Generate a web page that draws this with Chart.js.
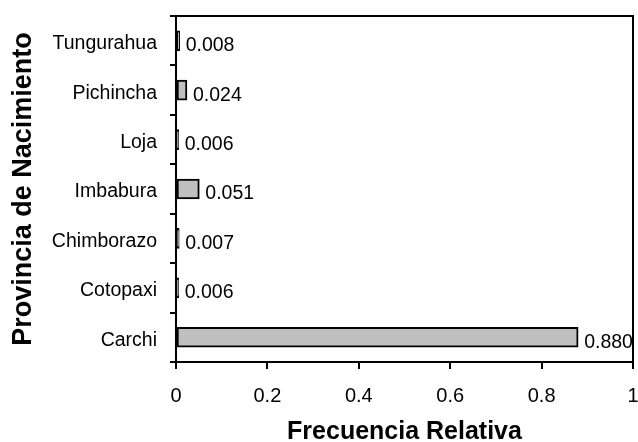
<!DOCTYPE html>
<html>
<head>
<meta charset="utf-8">
<script src="https://cdn.jsdelivr.net/npm/chart.js@4"></script>
<style>
  html, body { margin: 0; padding: 0; background: #fff; }
  #wrap { width: 638px; height: 442px; }
</style>
</head>
<body>
<div id="wrap"><canvas id="c" width="638" height="442"></canvas></div>
<script>
const provincias = ['Carchi', 'Cotopaxi', 'Chimborazo', 'Imbabura', 'Loja', 'Pichincha', 'Tungurahua'];
const frecuencia = [0.880, 0.006, 0.007, 0.051, 0.006, 0.024, 0.008];
const xTicks = [0, 0.2, 0.4, 0.6, 0.8, 1];

const font = 'Liberation Sans, Arial, sans-serif';

// frame around plot area + value labels beside bars
const framePlugin = {
  id: 'frame',
  afterDraw(chart) {
    const { ctx, chartArea: a } = chart;
    ctx.save();
    ctx.strokeStyle = '#000';
    ctx.lineWidth = 2;
    ctx.strokeRect(a.left, a.top, a.right - a.left, a.bottom - a.top);

    const meta = chart.getDatasetMeta(0);
    ctx.fillStyle = '#000';
    ctx.font = '19.5px ' + font;
    ctx.textAlign = 'left';
    ctx.textBaseline = 'middle';
    meta.data.forEach((bar, i) => {
      ctx.fillText(frecuencia[i].toFixed(3), bar.x + 6, bar.y + 5);
    });
    ctx.restore();
  }
};

new Chart(document.getElementById('c'), {
  type: 'bar',
  data: {
    labels: provincias,
    datasets: [{
      data: frecuencia,
      backgroundColor: '#c0c0c0',
      borderColor: '#000',
      borderWidth: 2,
      borderSkipped: false,
      barThickness: 20,
    }],
  },
  options: {
    indexAxis: 'y',
    responsive: false,
    animation: false,
    layout: { padding: { top: 16, right: 5, left: 0, bottom: 0 } },
    plugins: { legend: { display: false }, tooltip: { enabled: false } },
    scales: {
      x: {
        min: 0,
        max: 1,
        afterBuildTicks(scale) {
          scale.ticks = xTicks.map((v) => ({ value: v }));
        },
        afterFit(scale) {
          scale.height = 80;
          scale.paddingLeft = 0;
          scale.paddingRight = 0;
        },
        grid: { drawOnChartArea: false, tickLength: 7, color: '#000', lineWidth: 2 },
        border: { color: '#000', width: 2 },
        ticks: {
          color: '#000',
          font: { family: font, size: 20 },
          padding: 15,
          maxRotation: 0,
          callback: (v) => String(v),
        },
        title: {
          display: true,
          text: 'Frecuencia Relativa',
          color: '#000',
          font: { family: font, size: 25, weight: 'bold', lineHeight: 0.8 },
          padding: 0,
        },
      },
      y: {
        reverse: true,
        afterFit(scale) {
          scale.width = 176;
          scale.paddingTop = 0;
          scale.paddingBottom = 0;
        },
        grid: { drawOnChartArea: false, tickLength: 6, color: '#000', lineWidth: 2, offset: true },
        border: { color: '#000', width: 2 },
        ticks: {
          color: '#000',
          font: { family: font, size: 19.5 },
          padding: 13,
          labelOffset: 3,
        },
        title: {
          display: true,
          text: 'Provincia de Nacimiento',
          color: '#000',
          font: { family: font, size: 27, weight: 'bold', lineHeight: 1.2 },
          padding: { top: 7, bottom: 0 },
        },
      },
    },
  },
  plugins: [framePlugin],
});
</script>
</body>
</html>
